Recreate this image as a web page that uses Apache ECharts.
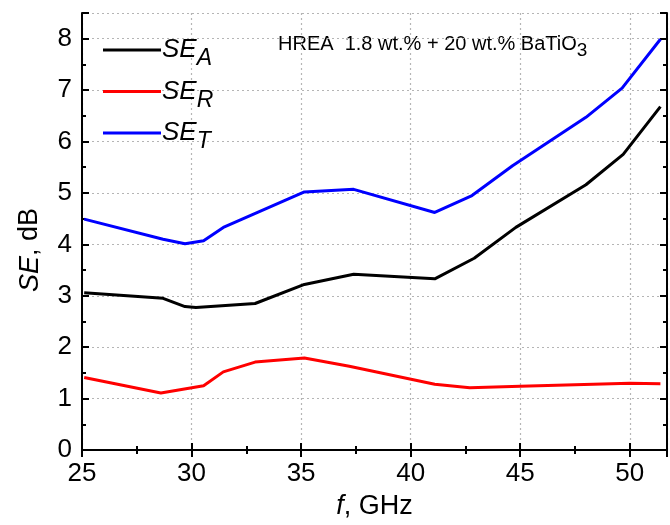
<!DOCTYPE html>
<html>
<head>
<meta charset="utf-8">
<script src="https://cdn.jsdelivr.net/npm/echarts@6/dist/echarts.min.js"></script>
<style>
  html, body { margin: 0; padding: 0; background: #fff; }
  #chart { width: 670px; height: 525px; }
</style>
</head>
<body>
<div id="chart"></div>
<script>
// frequency (GHz) and shielding values (dB)
const freqA = [25.1, 28.7, 29.7, 30.2, 32.9, 35.15, 37.4, 41.1, 42.9, 44.8, 48.0, 49.7, 51.4]
const seA = [3.06, 2.95, 2.79, 2.77, 2.85, 3.22, 3.42, 3.33, 3.73, 4.33, 5.16, 5.75, 6.68]

const freqR = [25.1, 28.6, 30.55, 31.45, 32.9, 35.15, 37.2, 41.1, 42.7, 45.0, 50.0, 51.4]
const seR = [1.41, 1.11, 1.25, 1.52, 1.71, 1.79, 1.63, 1.28, 1.21, 1.24, 1.30, 1.29]

const freqT = [25.1, 28.7, 29.7, 30.55, 31.45, 35.15, 37.4, 41.1, 42.8, 44.65, 48.0, 49.65, 51.4]
const seT = [4.49, 4.10, 4.01, 4.07, 4.33, 5.02, 5.07, 4.62, 4.95, 5.53, 6.47, 7.04, 7.99]

const seriesNames = ['SE_A', 'SE_R', 'SE_T']
const seriesColors = ['#000000', '#ff0000', '#0000ff']

const font = 'Liberation Sans, Arial, sans-serif'

const pairs = (xs, ys) => xs.map((x, i) => [x, ys[i]])

const chart = echarts.init(document.getElementById('chart'), null, { renderer: 'canvas' })

const frameAxis = {
  axisLine: { show: true, lineStyle: { color: '#000', width: 2 } },
  axisTick: { show: true, inside: true, length: 7, lineStyle: { color: '#000', width: 2 } },
  minorTick: { show: true, splitNumber: 2, length: 4, lineStyle: { color: '#000', width: 2 } }
}

const option = {
  animation: false,
  backgroundColor: '#fff',
  grid: { left: 82, right: 3, top: 13, bottom: 71, containLabel: false },
  xAxis: [
    {
      type: 'value', min: 25, max: 51.7, interval: 5,
      ...frameAxis,
      axisLabel: { color: '#000', fontSize: 26, fontFamily: font, margin: 11, showMaxLabel: false },
      splitLine: { show: true, lineStyle: { color: '#b5b5b5', type: [2, 3], width: 1.2 } },
      name: '{i|f}, GHz',
      nameLocation: 'middle',
      nameGap: 43,
      nameTextStyle: {
        color: '#000', fontSize: 27, fontFamily: font,
        rich: { i: { fontStyle: 'italic', fontSize: 27, fontFamily: font, color: '#000' } }
      }
    },
    {
      type: 'value', min: 25, max: 51.7, interval: 5, position: 'top',
      ...frameAxis,
      axisLabel: { show: false },
      splitLine: { show: false }
    }
  ],
  yAxis: [
    {
      type: 'value', min: 0, max: 8.5, interval: 1,
      ...frameAxis,
      axisLabel: { color: '#000', fontSize: 26, fontFamily: font, margin: 10, showMaxLabel: false },
      splitLine: { show: true, lineStyle: { color: '#b5b5b5', type: [2, 3], width: 1.2 } }
    },
    {
      type: 'value', min: 0, max: 8.5, interval: 1, position: 'right',
      ...frameAxis,
      axisLabel: { show: false },
      splitLine: { show: false }
    }
  ],
  legend: {
    orient: 'vertical',
    left: 98,
    top: 32,
    itemGap: 8,
    itemWidth: 58,
    itemHeight: 3,
    icon: 'rect',
    data: seriesNames,
    formatter: (name) => '{i|SE}{s|' + name.split('_')[1] + '}',
    textStyle: {
      color: '#000',
      padding: [0, 0, 0, -4],
      rich: {
        i: { fontStyle: 'italic', fontSize: 26, fontFamily: font, color: '#000', height: 30 },
        s: { fontStyle: 'italic', fontSize: 23, fontFamily: font, color: '#000', padding: [18, 0, 0, 0] }
      }
    }
  },
  graphic: [
    {
      type: 'text',
      x: 30, y: 250,
      rotation: Math.PI / 2,
      style: {
        text: '{i|SE}, dB',
        fill: '#000',
        font: '27px ' + font,
        align: 'center',
        verticalAlign: 'middle',
        rich: { i: { fontStyle: 'italic', fontSize: 27, fontFamily: font, fill: '#000' } }
      }
    },
    {
      type: 'text',
      x: 278, y: 29,
      style: {
        text: 'HREA  1.8 wt.% + 20 wt.% BaTiO{s|3}',
        fill: '#000',
        font: '20px ' + font,
        rich: { s: { fontSize: 19, fontFamily: font, fill: '#000', padding: [12, 0, 0, 0] } }
      }
    }
  ],
  series: [
    { name: seriesNames[0], data: pairs(freqA, seA) },
    { name: seriesNames[1], data: pairs(freqR, seR) },
    { name: seriesNames[2], data: pairs(freqT, seT) }
  ].map((s, i) => ({
    ...s,
    type: 'line',
    showSymbol: false,
    symbol: 'none',
    color: seriesColors[i],
    lineStyle: { color: seriesColors[i], width: 3 },
    z: 3
  }))
}

chart.setOption(option)
</script>
</body>
</html>
